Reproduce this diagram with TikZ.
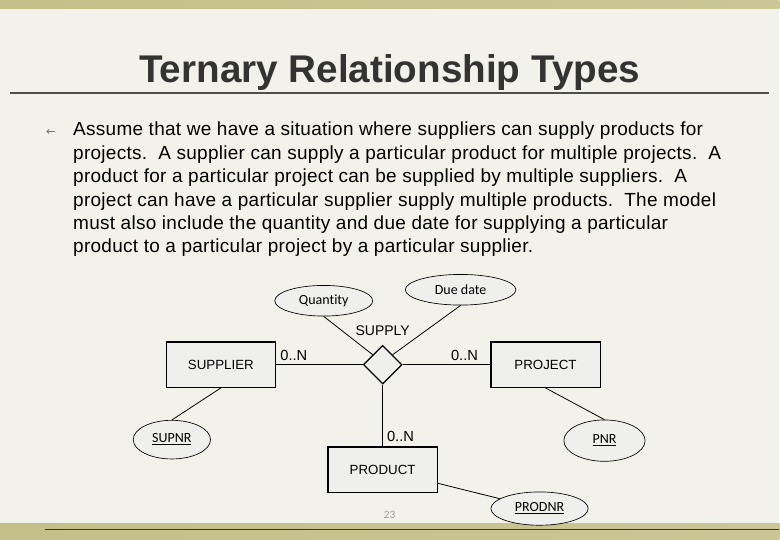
\documentclass[tikz,border=0pt]{standalone}
\usepackage{fontspec}
\setmainfont{Liberation Sans}
\newfontfamily\calibri[Ligatures=NoCommon]{Carlito}
\newfontfamily\simbolos{DejaVu Sans}
\newfontfamily\cuerpofont[LetterSpace=1.5]{Liberation Sans}
\usetikzlibrary{shapes.geometric, positioning, calc}
\definecolor{fondo}{HTML}{F2F1EA}
\definecolor{oliva}{HTML}{C4C08A}
\definecolor{olivaclaro}{HTML}{DAD7B8}
\definecolor{grisoscuro}{HTML}{333333}
\definecolor{linea}{HTML}{4F4F4A}
\definecolor{relleno}{HTML}{EFEFEE}
\definecolor{grisnum}{HTML}{9A9A9A}
\tikzset{
  entidad/.style={rectangle, draw=black, fill=relleno, minimum width=82pt, minimum height=34pt,
                  font=\fontsize{10pt}{12pt}\selectfont, line width=0.9pt},
  atributo/.style={ellipse, draw=black, fill=relleno, inner sep=0pt,
                   font=\calibri\fontsize{10.5pt}{12pt}\selectfont, line width=0.5pt},
  relacion/.style={diamond, draw=black, fill=relleno, minimum width=29pt, minimum height=29pt,
                   inner sep=0pt, line width=0.9pt},
  card/.style={font=\fontsize{11pt}{12pt}\selectfont, inner sep=3pt},
  enlace/.style={line width=0.6pt, draw=black}
}

\begin{document}
\begin{tikzpicture}[x=0.75pt, y=-0.75pt]
  % fondo y bandas
  \fill[fondo] (0,0) rectangle (780,540);
  \shade[left color=oliva, middle color=olivaclaro, right color=oliva!90!white] (0,0) rectangle (780,9);
  \shade[left color=oliva, middle color=olivaclaro, right color=oliva!90!white] (0,524) rectangle (780,540);
  \draw[linea!70!black, line width=1pt] (45,530) -- (780,530);
  \shade[left color=fondo, middle color=olivaclaro, right color=fondo] (40,111) rectangle (740,113);

  % titulo
  \node (titulo) [anchor=base, text=grisoscuro, font=\fontsize{29pt}{34pt}\selectfont\bfseries] at (390,83) {Ternary Relationship Types};
  \draw[linea, line width=1.3pt] (10,93) -- (770,93);

  % texto
  \node (vineta) [text=grisoscuro!70, font=\simbolos\fontsize{8.5pt}{8.5pt}\selectfont] at (51,133) {←};
  \node (cuerpo) [anchor=north west, align=left, inner sep=0pt, font=\cuerpofont\fontsize{14.25pt}{17.55pt}\selectfont] at (73,122)
    {Assume that we have a situation where suppliers can supply products for\\
     projects.\ \ A supplier can supply a particular product for multiple projects.\ \ A\\
     product for a particular project can be supplied by multiple suppliers.\ \ A\\
     project can have a particular supplier supply multiple products.\ \ The model\\
     must also include the quantity and due date for supplying a particular\\
     product to a particular project by a particular supplier.};

  % diagrama
  \node (quantity) [atributo, minimum width=73.5pt, minimum height=23pt] at (324,301) {Quantity};
  \node (duedate) [atributo, minimum width=83pt, minimum height=23pt] at (461,290) {Due date};
  \node (supply) [relacion] at (383,365) {};
  \node (nombre) [above=4pt of supply, card, font=\fontsize{10.5pt}{12pt}\selectfont] {SUPPLY};
  \node (supplier) [entidad] at (221,365) {SUPPLIER};
  \node (project) [entidad] at (546,365) {PROJECT};
  \node (product) [entidad] at (383,470) {PRODUCT};
  \node (supnr) [atributo, minimum width=58pt, minimum height=29pt] at (172,440) {\underline{SUPNR}};
  \node (pnr) [atributo, minimum width=61pt, minimum height=31pt] at (605,441) {\underline{PNR}};
  \node (prodnr) [atributo, minimum width=73pt, minimum height=25pt] at (540,509) {\underline{PRODNR}};

  \draw[enlace] (supplier) -- node[card, pos=0, anchor=south west] {0..N} (supply);
  \draw[enlace] (supply) -- node[card, pos=1, anchor=south east, xshift=-6pt] {0..N} (project);
  \draw[enlace] (supply) -- node[card, pos=1, anchor=south west] {0..N} (product);
  \draw[enlace] (quantity.south) -- (supply.north west);
  \draw[enlace] (duedate.south) -- (supply.north east);
  \draw[enlace] (supplier.south) -- (supnr.north);
  \draw[enlace] (project.south) -- (pnr.north);
  \draw[enlace] (product) -- (prodnr);

  \node (pagina) [text=grisnum, font=\calibri\fontsize{8.5pt}{10pt}\selectfont] at (390,515) {23};
\end{tikzpicture}
\end{document}
